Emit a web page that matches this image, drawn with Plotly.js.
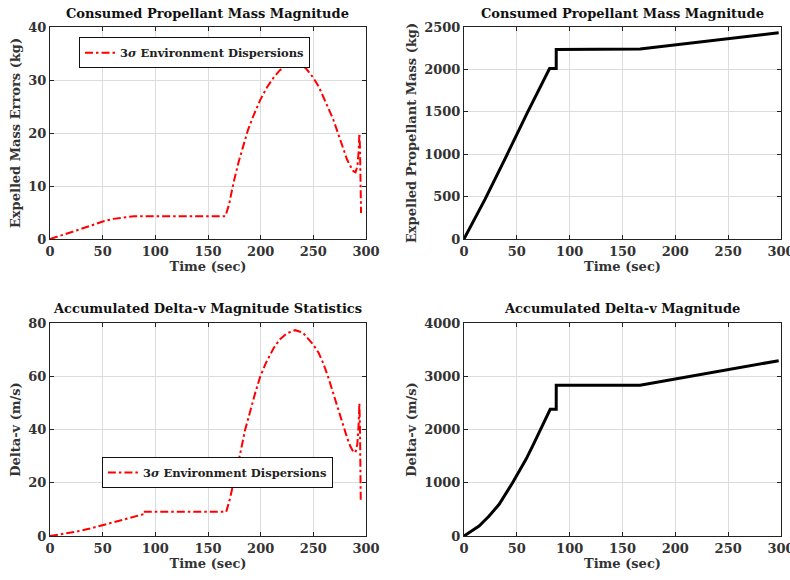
<!DOCTYPE html>
<html>
<head>
<meta charset="utf-8">
<script src="https://cdn.plot.ly/plotly-3.0.1.min.js"></script>
<style>html,body{margin:0;padding:0;background:#fff;}#chart{width:790px;height:580px;}</style>
</head>
<body>
<div id="chart"></div>
<script>
// Top-left: expelled mass errors (kg), 3-sigma environment dispersions
const massErrTime = [0, 10, 25, 40, 50, 60, 70, 80, 120, 166.5, 170, 174.2, 179, 183.7, 188, 193.2, 199.5, 205.9, 212.1, 218, 224.8, 231, 237, 243, 250, 255, 259.5, 264, 269, 274, 278.5, 282, 285, 288, 290, 291.8, 293, 293.7, 294.3, 294.8, 295.3];
const massErrVal  = [0, 0.6, 1.6, 2.6, 3.3, 3.8, 4.1, 4.3, 4.3, 4.3, 6.5, 10.6, 14.5, 17.8, 20.6, 23.3, 26.2, 28.6, 30.4, 31.8, 32.8, 33.2, 33.0, 32.2, 30.4, 28.8, 26.9, 24.8, 22.5, 19.7, 16.9, 15.0, 13.8, 12.8, 12.6, 13.7, 16.5, 19.9, 17.0, 12.0, 4.9];

// Top-right: expelled propellant mass (kg)
const massTime = [0, 20, 40, 60, 81, 87.3, 87.31, 166.6, 297.8];
const massVal  = [0, 470, 975, 1490, 2010, 2010, 2236, 2240, 2433];

// Bottom-left: delta-v errors (m/s), 3-sigma environment dispersions
const dvErrTime = [0, 12, 25, 38, 50, 62, 75, 87.8, 87.81, 130, 167.3, 170.5, 174.2, 180.6, 185, 190, 195, 199.5, 205, 212.1, 218, 224.8, 232.7, 240, 250, 255, 259.5, 264, 269, 274, 278.5, 282, 285, 288, 290, 291.8, 293, 293.7, 294.3, 295];
const dvErrVal  = [0, 0.7, 1.65, 2.8, 4.0, 5.4, 6.7, 8.1, 9.1, 9.1, 9.1, 13.5, 19.7, 31.0, 39.5, 47.3, 54.0, 59.8, 65.0, 70.4, 73.8, 76.1, 77.3, 76.4, 71.8, 68.8, 64.8, 59.8, 53.5, 47.0, 41.0, 37.0, 33.8, 31.6, 31.4, 34.7, 42.0, 49.8, 40.0, 12.8];

// Bottom-right: accumulated delta-v (m/s)
const dvTime = [0, 7, 14.3, 23.8, 33.3, 46, 58.7, 65.5, 72.5, 81.6, 87.3, 87.31, 166.6, 297.8];
const dvVal  = [0, 85, 188, 375, 595, 1000, 1439, 1710, 2000, 2380, 2380, 2830, 2830, 3292];

const legendName = "3<i>σ</i> Environment Dispersions";
const titles = ["Consumed Propellant Mass Magnitude", "Consumed Propellant Mass Magnitude",
                "Accumulated Delta-v Magnitude Statistics", "Accumulated Delta-v Magnitude"];
const yTitles = ["Expelled Mass Errors (kg)", "Expelled Propellant Mass (kg)", "Delta-v (m/s)", "Delta-v (m/s)"];

const FONT = "DejaVu Serif, serif";
const DASH = "8px,3px,2.5px,3px";

const traces = [
  {x: massErrTime, y: massErrVal, xaxis: 'x', yaxis: 'y', mode: 'lines', name: legendName,
   line: {color: '#ff0000', width: 2, dash: DASH}, showlegend: true, legend: 'legend'},
  {x: massTime, y: massVal, xaxis: 'x2', yaxis: 'y2', mode: 'lines', showlegend: false,
   line: {color: '#000000', width: 3}},
  {x: dvErrTime, y: dvErrVal, xaxis: 'x3', yaxis: 'y3', mode: 'lines', name: legendName,
   line: {color: '#ff0000', width: 2, dash: DASH}, showlegend: true, legend: 'legend2'},
  {x: dvTime, y: dvVal, xaxis: 'x4', yaxis: 'y4', mode: 'lines', showlegend: false,
   line: {color: '#000000', width: 3}}
];

const tfont = {family: FONT, size: 13, color: '#333', weight: 'bold'};

function xax(domain, anchor) {
  return {domain: domain, anchor: anchor, range: [0, 300], dtick: 50, tick0: 0,
    showgrid: true, gridcolor: '#dcdcdc', gridwidth: 1, zeroline: false,
    showline: true, linecolor: '#222', linewidth: 1, mirror: 'ticks',
    ticks: 'inside', ticklen: 4, tickcolor: '#222', ticklabeloverflow: 'allow',
    tickfont: tfont,
    title: {text: 'Time (sec)', font: tfont, standoff: 4}};
}
function yax(domain, anchor, range, dtick, title) {
  return {domain: domain, anchor: anchor, range: range, dtick: dtick, tick0: 0,
    showgrid: true, gridcolor: '#dcdcdc', gridwidth: 1, zeroline: false,
    showline: true, linecolor: '#222', linewidth: 1, mirror: 'ticks',
    ticks: 'inside', ticklen: 4, tickcolor: '#222', ticklabeloverflow: 'allow',
    tickfont: tfont,
    title: {text: title, font: tfont, standoff: 4}};
}

const dL = [0, 0.4323], dR = [0.5663, 1], dT = [0.5835, 1], dB = [0, 0.4185];

const lfont = {family: FONT, size: 11.5, color: '#222', weight: 'bold'};

const layout = {
  width: 790, height: 580,
  margin: {l: 50, r: 9, t: 27, b: 44},
  paper_bgcolor: '#fff', plot_bgcolor: '#fff',
  font: {family: FONT, color: '#333'},
  xaxis: xax(dL, 'y'), yaxis: yax(dT, 'x', [0, 40], 10, yTitles[0]),
  xaxis2: xax(dR, 'y2'), yaxis2: yax(dT, 'x2', [0, 2500], 500, yTitles[1]),
  xaxis3: xax(dL, 'y3'), yaxis3: yax(dB, 'x3', [0, 80], 20, yTitles[2]),
  xaxis4: xax(dR, 'y4'), yaxis4: yax(dB, 'x4', [0, 4000], 1000, yTitles[3]),
  legend: {x: 0.0397, y: 0.98, xanchor: 'left', yanchor: 'top', bgcolor: '#fff',
    bordercolor: '#111', borderwidth: 1, font: lfont, itemwidth: 30, tracegroupgap: 0},
  legend2: {x: 0.071, y: 0.155, xanchor: 'left', yanchor: 'top', bgcolor: '#fff',
    bordercolor: '#111', borderwidth: 1, font: lfont, itemwidth: 30, tracegroupgap: 0},
  annotations: [
    {text: titles[0], xref: 'paper', yref: 'paper', x: 0.2161, y: 1, yshift: 14, showarrow: false, xanchor: 'center', yanchor: 'middle', font: {family: FONT, size: 13, color: '#111', weight: 'bold'}},
    {text: titles[1], xref: 'paper', yref: 'paper', x: 0.7831, y: 1, yshift: 14, showarrow: false, xanchor: 'center', yanchor: 'middle', font: {family: FONT, size: 13, color: '#111', weight: 'bold'}},
    {text: titles[2], xref: 'paper', yref: 'paper', x: 0.2161, y: 0.4185, yshift: 14, showarrow: false, xanchor: 'center', yanchor: 'middle', font: {family: FONT, size: 13, color: '#111', weight: 'bold'}},
    {text: titles[3], xref: 'paper', yref: 'paper', x: 0.7831, y: 0.4185, yshift: 14, showarrow: false, xanchor: 'center', yanchor: 'middle', font: {family: FONT, size: 13, color: '#111', weight: 'bold'}}
  ]
};

Plotly.newPlot('chart', traces, layout, {displayModeBar: false, staticPlot: true});
</script>
</body>
</html>
